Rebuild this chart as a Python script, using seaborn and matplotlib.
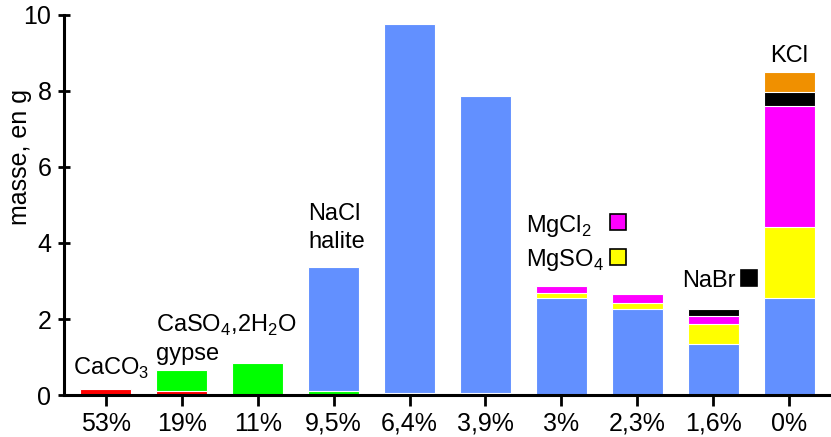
import numpy as np
import pandas as pd
import matplotlib
matplotlib.use('Agg')
import matplotlib.pyplot as plt
import seaborn as sns

sns.set_style('ticks')
plt.rcParams['font.family'] = ['Liberation Sans', 'DejaVu Sans']
plt.rcParams['mathtext.fontset'] = 'custom'
plt.rcParams['mathtext.rm'] = 'Liberation Sans'
for k in ['text.color', 'axes.labelcolor', 'xtick.color', 'ytick.color', 'axes.edgecolor']:
    plt.rcParams[k] = 'black'

# salinité restante (étiquettes de l'axe x)
salinite = ['53%', '19%', '11%', '9,5%', '6,4%', '3,9%', '3%', '2,3%', '1,6%', '0%']

# masse de chaque sel déposé, en g (de bas en haut dans la pile)
caco3 = [0.15, 0.10, 0, 0, 0, 0, 0, 0, 0, 0]
gypse = [0, 0.56, 0.85, 0.10, 0.06, 0.05, 0, 0, 0, 0]
nacl = [0, 0, 0, 3.27, 9.70, 7.82, 2.56, 2.26, 1.35, 2.56]
mgso4 = [0, 0, 0, 0, 0, 0, 0.12, 0.16, 0.53, 1.86]
mgcl2 = [0, 0, 0, 0, 0, 0, 0.19, 0.25, 0.21, 3.18]
nabr = [0, 0, 0, 0, 0, 0, 0, 0, 0.18, 0.36]
kcl = [0, 0, 0, 0, 0, 0, 0, 0, 0, 0.54]

couches = [caco3, gypse, nacl, mgso4, mgcl2, nabr, kcl]
couleurs = ['#ff0000', '#00ff00', '#6290ff', '#ffff00', '#ff00ff', '#000000', '#f09000']

cumul = np.cumsum(np.array(couches), axis=0)

fig = plt.figure(figsize=(8.31, 4.37), dpi=100)
ax = fig.add_axes([0.077, 0.096, 0.923, 0.870])

# empilement : on trace les cumuls du plus haut au plus bas
for i in range(len(couches) - 1, -1, -1):
    df = pd.DataFrame({'salinite': salinite, 'masse': cumul[i]})
    sns.barplot(data=df, x='salinite', y='masse', order=salinite, color=couleurs[i],
                saturation=1, width=0.67, errorbar=None, edgecolor='white',
                linewidth=0.8, ax=ax)

ax.set_axisbelow(False)
ax.set_xlim(-0.55, 9.55)
ax.set_ylim(0, 10)
ax.set_yticks([0, 2, 4, 6, 8, 10])
ax.set_xlabel('')
ax.set_ylabel('masse, en g', fontsize=18)
ax.yaxis.set_label_coords(-0.042, 0.625)

sns.despine(ax=ax)
for s in ['left', 'bottom']:
    ax.spines[s].set_linewidth(2.2)
ax.tick_params(axis='y', direction='inout', length=8, width=2, labelsize=18, pad=5)
ax.tick_params(axis='x', direction='out', length=8, width=2, labelsize=18, pad=4)

# étiquettes des sels
txt = dict(fontsize=17, ha='left', va='baseline')
ax.text(-0.43, 0.53, r'CaCO$_\mathregular{3}$', **txt)
ax.text(0.66, 1.66, r'CaSO$_\mathregular{4}$,2H$_\mathregular{2}$O', **txt)
ax.text(0.66, 0.92, 'gypse', **txt)
ax.text(2.67, 4.6, 'NaCl', **txt)
ax.text(2.67, 3.87, 'halite', **txt)
ax.text(5.54, 4.29, r'MgCl$_\mathregular{2}$', **txt)
ax.text(5.54, 3.39, r'MgSO$_\mathregular{4}$', **txt)
ax.text(7.59, 2.84, 'NaBr', **txt)
ax.text(9.0, 8.76, 'KCl', fontsize=17, ha='center', va='baseline')

# petits carrés de légende
carres = [(6.75, 4.55, '#ff00ff'), (6.75, 3.62, '#ffff00'), (8.47, 3.07, '#000000')]
for cx, cy, c in carres:
    ax.plot(cx, cy, marker='s', markersize=11.5, markerfacecolor=c,
            markeredgecolor='black', markeredgewidth=1.2, clip_on=False)

fig.savefig('out.png', dpi=100)
